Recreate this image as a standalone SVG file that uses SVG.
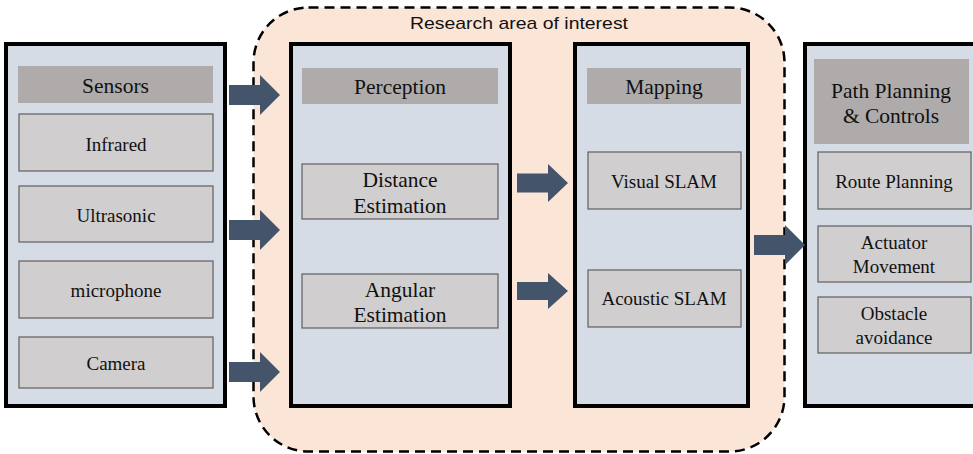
<svg xmlns="http://www.w3.org/2000/svg" width="973" height="454" viewBox="0 0 973 454">
<style>
.panel{fill:#D6DCE5;stroke:#000;stroke-width:4}
.head{fill:#AFABAB}
.item{fill:#D0CECE;stroke:#5F5F5F;stroke-width:1.2}
.t{font-family:"Liberation Serif","Times New Roman",serif;fill:#111;text-anchor:middle}
.h{font-size:21.5px}
.i{font-size:19px}
.arrow{fill:#44546A}
</style>
<defs>
<path id="arr" d="M0,-10 H31 V-20 L51,0 L31,20 V10 H0 Z"/>
</defs>
<rect x="253.5" y="7.5" width="531" height="444" rx="55" ry="55" fill="#FBE5D6" stroke="#000" stroke-width="2.5" stroke-dasharray="10,6"/>
<text x="519" y="29" font-family="Liberation Sans, Arial, sans-serif" font-size="17" fill="#111" text-anchor="middle" textLength="218" lengthAdjust="spacingAndGlyphs">Research area of interest</text>
<g id="sensors">
<rect class="panel" x="6" y="44" width="219" height="362"/>
<rect class="head" x="18" y="66" width="195" height="37"/>
<text class="t h" x="115.5" y="93">Sensors</text>
<g id="infrared"><rect class="item" x="19" y="114" width="194" height="57"/><text class="t i" x="116" y="151">Infrared</text></g>
<g id="ultrasonic"><rect class="item" x="19" y="186" width="194" height="56"/><text class="t i" x="116" y="222">Ultrasonic</text></g>
<g id="microphone"><rect class="item" x="19" y="261" width="194" height="57"/><text class="t i" x="116" y="297">microphone</text></g>
<g id="camera"><rect class="item" x="19" y="337" width="194" height="51"/><text class="t i" x="116" y="370">Camera</text></g>
</g>
<g id="perception">
<rect class="panel" x="291" y="44" width="219" height="362"/>
<rect class="head" x="302" y="68" width="196" height="36"/>
<text class="t h" x="400" y="94">Perception</text>
<g id="distance"><rect class="item" x="302" y="164" width="196" height="55"/><text class="t h" x="400" y="187">Distance</text><text class="t h" x="400" y="213">Estimation</text></g>
<g id="angular"><rect class="item" x="302" y="274" width="196" height="54"/><text class="t h" x="400" y="297">Angular</text><text class="t h" x="400" y="322">Estimation</text></g>
</g>
<g id="mapping">
<rect class="panel" x="575" y="44" width="173" height="362"/>
<rect class="head" x="587" y="68" width="154" height="36"/>
<text class="t h" x="664" y="94">Mapping</text>
<g id="visual"><rect class="item" x="588" y="152" width="153" height="57"/><text class="t i" x="664" y="188">Visual SLAM</text></g>
<g id="acoustic"><rect class="item" x="588" y="270" width="153" height="57"/><text class="t i" x="664" y="305">Acoustic SLAM</text></g>
</g>
<g id="path-planning">
<rect class="panel" x="805" y="44" width="200" height="362"/>
<rect class="head" x="814" y="59" width="155" height="85"/>
<text class="t h" x="891" y="98">Path Planning</text>
<text class="t h" x="891" y="123">&amp; Controls</text>
<g id="route"><rect class="item" x="818" y="152" width="153" height="57"/><text class="t i" x="894" y="188">Route Planning</text></g>
<g id="actuator"><rect class="item" x="818" y="226" width="153" height="56"/><text class="t i" x="894" y="249">Actuator</text><text class="t i" x="894" y="273">Movement</text></g>
<g id="obstacle"><rect class="item" x="818" y="297" width="153" height="56"/><text class="t i" x="894" y="320">Obstacle</text><text class="t i" x="894" y="344">avoidance</text></g>
</g>
<g id="connectors" class="arrow">
<use href="#arr" transform="translate(229,95)"/>
<use href="#arr" transform="translate(229,230)"/>
<use href="#arr" transform="translate(229,372)"/>
<use href="#arr" transform="translate(517,183) scale(1,0.95)"/>
<use href="#arr" transform="translate(517,291) scale(1,0.9)"/>
<use href="#arr" transform="translate(754,245)"/>
</g>
</svg>
